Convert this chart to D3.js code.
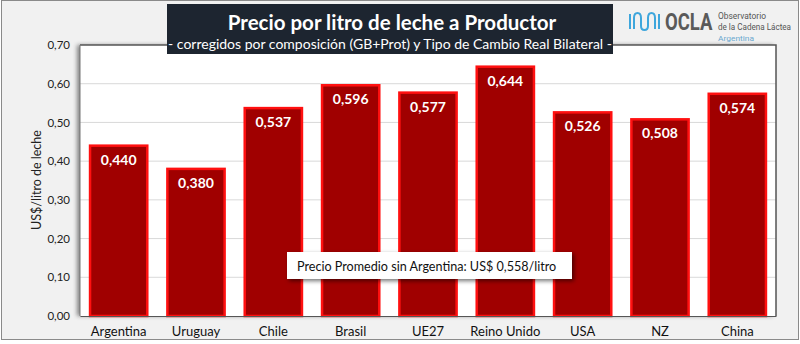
<!DOCTYPE html>
<html>
<head>
<meta charset="utf-8">
<script src="https://cdn.jsdelivr.net/npm/d3@7"></script>
<style>
  html, body { margin: 0; padding: 0; background: #ffffff; }
  svg { display: block; font-family: Lato, "Open Sans", sans-serif; }
</style>
</head>
<body>
<svg id="chart" width="800" height="344"></svg>
<script>
const countries = ["Argentina", "Uruguay", "Chile", "Brasil", "UE27", "Reino Unido", "USA", "NZ", "China"];
const prices = [0.440, 0.380, 0.537, 0.596, 0.577, 0.644, 0.526, 0.508, 0.574];
const yTicks = [0, 0.1, 0.2, 0.3, 0.4, 0.5, 0.6, 0.7];
const titleText = "Precio por litro de leche a Productor";
const subtitleText = "-  corregidos por composición (GB+Prot) y Tipo de Cambio Real Bilateral -";
const yAxisTitle = "US$/litro de leche";
const noteText = "Precio Promedio sin Argentina: US$ 0,558/litro";

const W = 800, H = 344;
const plot = { left: 80, top: 45, right: 776, bottom: 316 };

const svg = d3.select("#chart");
const defs = svg.append("defs");

const shadow = defs.append("filter").attr("id", "shadow")
  .attr("x", "-10%").attr("y", "-10%").attr("width", "130%").attr("height", "140%");
shadow.append("feDropShadow").attr("dx", 2).attr("dy", 2).attr("stdDeviation", 2)
  .attr("flood-color", "#000").attr("flood-opacity", 0.55);

const frameShadow = defs.append("filter").attr("id", "frameShadow")
  .attr("x", "-5%").attr("y", "-5%").attr("width", "110%").attr("height", "110%");
frameShadow.append("feDropShadow").attr("dx", -3).attr("dy", 0).attr("stdDeviation", 2)
  .attr("flood-color", "#000").attr("flood-opacity", 0.45);

// page background
svg.append("rect").attr("x", 1.5).attr("y", 0.5).attr("width", W - 3).attr("height", H - 5)
  .attr("fill", "#f1f1f1").attr("stroke", "#8a8a8a").attr("stroke-width", 1);

const x = d3.scaleBand().domain(countries).range([plot.left, plot.right]).paddingInner(0.26).paddingOuter(0.13);
const y = d3.scaleLinear().domain([0, 0.7]).range([plot.bottom, plot.top]);

// plot frame
svg.append("rect").attr("x", plot.left).attr("y", plot.top)
  .attr("width", plot.right - plot.left).attr("height", plot.bottom - plot.top)
  .attr("fill", "#ffffff").attr("filter", "url(#frameShadow)");

// gridlines
svg.append("g").selectAll("line").data(yTicks.slice(1, -1)).join("line")
  .attr("x1", plot.left).attr("x2", plot.right)
  .attr("y1", d => y(d)).attr("y2", d => y(d))
  .attr("stroke", "#d9d9d9").attr("stroke-width", 1);

// frame edges
svg.append("path")
  .attr("d", `M${plot.left},${plot.top}H${plot.right}V${plot.bottom}`)
  .attr("fill", "none").attr("stroke", "#555").attr("stroke-width", 1.5);
svg.append("line").attr("x1", plot.left).attr("x2", plot.left).attr("y1", plot.top).attr("y2", plot.bottom)
  .attr("stroke", "#777").attr("stroke-width", 1);

// y axis
const yAxis = d3.axisLeft(y).tickValues(yTicks).tickSize(0).tickPadding(10)
  .tickFormat(d => d3.format(".2f")(d).replace(".", ","));
const yg = svg.append("g").attr("transform", `translate(${plot.left},0)`).call(yAxis);
yg.select(".domain").remove();
yg.selectAll("text").attr("font-family", "Lato, sans-serif").attr("font-size", 11.5).attr("fill", "#222");

svg.append("text").attr("transform", `translate(41,180) rotate(-90)`)
  .attr("text-anchor", "middle").attr("font-size", 12.5).attr("fill", "#222").text(yAxisTitle);

// bars
svg.append("g").selectAll("rect").data(prices).join("rect")
  .attr("x", (d, i) => x(countries[i]))
  .attr("y", d => y(d))
  .attr("width", x.bandwidth())
  .attr("height", d => plot.bottom - y(d))
  .attr("fill", "#a00000")
  .attr("stroke", "#ff1010").attr("stroke-width", 2.5);

// value labels
svg.append("g").selectAll("text").data(prices).join("text")
  .attr("x", (d, i) => x(countries[i]) + x.bandwidth() / 2)
  .attr("y", d => y(d) + 19)
  .attr("text-anchor", "middle").attr("font-size", 14).attr("font-weight", "bold")
  .attr("fill", "#ffffff")
  .text(d => d3.format(".3f")(d).replace(".", ","));

// x axis
const xAxis = d3.axisBottom(x).tickSize(0).tickPadding(11);
const xg = svg.append("g").attr("transform", `translate(0,${plot.bottom})`).call(xAxis);
xg.select(".domain").attr("stroke", "#555");
xg.selectAll("text").attr("font-family", "Lato, sans-serif").attr("font-size", 13).attr("fill", "#111");

// average note
const note = svg.append("g");
note.append("rect").attr("x", 287).attr("y", 252).attr("width", 285).attr("height", 27)
  .attr("fill", "#ffffff").attr("filter", "url(#shadow)");
note.append("text").attr("x", 297).attr("y", 270.5).attr("font-size", 12.6).attr("fill", "#111").text(noteText);

// title banner
svg.append("rect").attr("x", 167).attr("y", 4).attr("width", 446).attr("height", 50).attr("fill", "#1d2530");
svg.append("text").attr("x", 392).attr("y", 30).attr("text-anchor", "middle")
  .attr("font-size", 20.5).attr("font-weight", "bold").attr("fill", "#ffffff").text(titleText);
svg.append("text").attr("x", 390).attr("y", 49).attr("text-anchor", "middle")
  .attr("font-size", 14).attr("fill", "#ffffff").text(subtitleText);

// OCLA logo
const logo = svg.append("g").attr("font-family", "Roboto, sans-serif");
logo.append("path")
  .attr("d", "M630,14 V29 M634,29 V18 Q634,13 637.5,13 Q641,13 641,18 V26 Q641,30 644.5,30 Q648,30 648,26 V18 Q648,13 651.5,13 Q655,13 655,18 V29 M659,29 V14")
  .attr("fill", "none").attr("stroke", "#3ea6dc").attr("stroke-width", 2);
logo.append("text").attr("transform", "translate(665,30) scale(1,1.25)")
  .attr("font-size", 18.5).attr("font-weight", "bold")
  .attr("fill", "#5a5a5a").text("OCLA");
logo.append("text").attr("x", 718).attr("y", 19).attr("font-size", 8.5)
  .attr("textLength", 48).attr("lengthAdjust", "spacingAndGlyphs")
  .attr("fill", "#555").text("Observatorio");
logo.append("text").attr("x", 718).attr("y", 30).attr("font-size", 8.5)
  .attr("textLength", 73).attr("lengthAdjust", "spacingAndGlyphs")
  .attr("fill", "#555").text("de la Cadena Láctea");
logo.append("text").attr("x", 718).attr("y", 40.5).attr("font-size", 8)
  .attr("textLength", 36).attr("lengthAdjust", "spacingAndGlyphs")
  .attr("fill", "#6aa8cf").text("Argentina");
</script>
</body>
</html>
